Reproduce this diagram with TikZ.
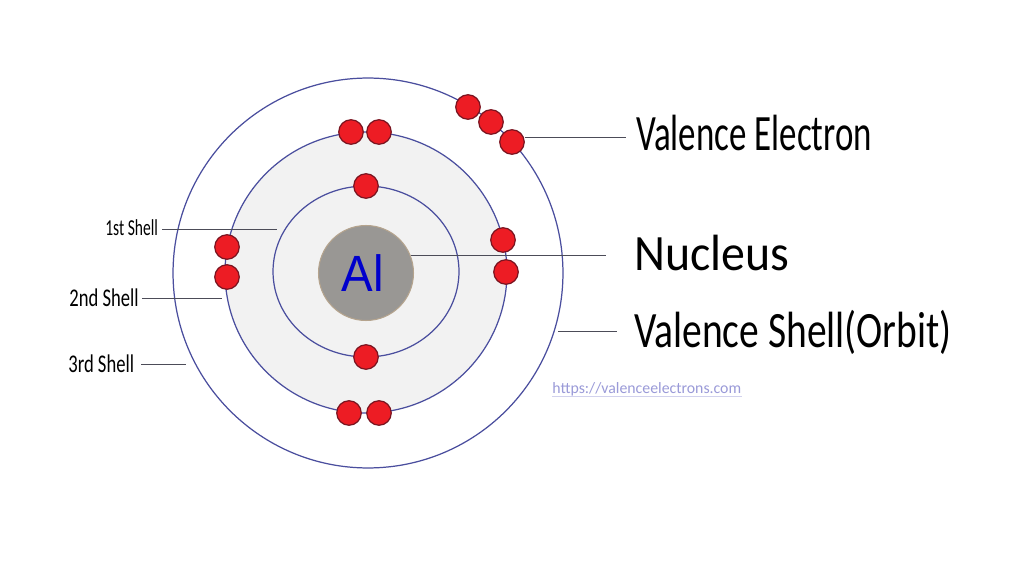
\documentclass[tikz,border=0pt]{standalone}
\usepackage{fontspec}
\usetikzlibrary{shapes.geometric}
\setmainfont{Carlito}
\newfontfamily\valenceFont[FakeStretch=0.685]{Carlito}
\newfontfamily\orbitFont[FakeStretch=0.775]{Carlito}
\newfontfamily\coreFont[FakeStretch=0.94]{Carlito}
\newfontfamily\firstFont[FakeStretch=0.68]{Carlito}
\newfontfamily\shellFont[FakeStretch=0.73]{Carlito}
\newfontfamily\symbolFont[FakeStretch=0.93]{Liberation Sans}
\definecolor{orbitblue}{HTML}{4A4E9E}
\definecolor{leadgrey}{HTML}{4C4C58}
\definecolor{corefill}{HTML}{999794}
\definecolor{coreline}{HTML}{B5A48E}
\definecolor{shellfill}{HTML}{F2F2F2}
\definecolor{electronred}{HTML}{ED1C24}
\definecolor{electronline}{HTML}{7A1420}
\definecolor{urlblue}{HTML}{9A9AD8}
\tikzset{
    orbit/.style={ellipse, draw=orbitblue, line width=0.7pt, inner sep=0pt},
    electron/.style={circle, fill=electronred, draw=electronline, line width=0.7pt, inner sep=0pt, minimum size=0.49cm},
    lead/.style={draw=leadgrey, line width=0.6pt},
    biglabel/.style={inner sep=0pt, anchor=west, text=black},
    shelllabel/.style={inner sep=0pt, anchor=west, text=black}
}
\begin{document}
\begin{tikzpicture}[x=0.02cm, y=-0.02cm]
    \useasboundingbox (0,0) rectangle (1024,574);
    \fill[white] (0,0) rectangle (1024,574);

    % shells and core
    \node[orbit, minimum width=7.8cm, minimum height=7.8cm] (shellC) at (368,273) {};
    \node[orbit, fill=shellfill, minimum width=5.64cm, minimum height=5.62cm] (shellB) at (366,272.5) {};
    \node[orbit, minimum width=3.72cm, minimum height=3.42cm] (shellA) at (366,271.5) {};
    \node[circle, fill=corefill, draw=coreline, line width=0.6pt, inner sep=0pt, minimum size=1.9cm,
        text=blue!80!black, font=\symbolFont\fontsize{29}{29}\selectfont] (core) at (366,273) {Al\kern0.12cm\relax};

    % labels
    \node[biglabel, font=\valenceFont\fontsize{29}{29}\selectfont] (valenceLabel) at (636,133) {Valence Electron};
    \node[biglabel, font=\coreFont\fontsize{29}{29}\selectfont] (coreLabel) at (634,253) {Nucleus};
    \node[biglabel, font=\orbitFont\fontsize{29}{29}\selectfont] (orbitLabel) at (634,332) {Valence Shell(Orbit)};
    \node[shelllabel, font=\firstFont\fontsize{13}{13}\selectfont] (firstLabel) at (105,228) {1st Shell};
    \node[shelllabel, font=\shellFont\fontsize{14.5}{14.5}\selectfont] (secondLabel) at (69,298) {2nd Shell};
    \node[shelllabel, font=\shellFont\fontsize{14.5}{14.5}\selectfont] (thirdLabel) at (68,364) {3rd Shell};
    \node[inner sep=0pt, anchor=west, text=urlblue, font=\fontsize{9}{9}\selectfont] (urlLabel) at (552,389.5) {https://valenceelectrons.com};
    \draw[urlblue!45, line width=0.3pt] (urlLabel.south west) -- (urlLabel.south east);

    % electrons
    \foreach \name/\x/\y in {vA/468/107, vB/491/122, vC/512/142,
        bA/351/132, bB/379/132, bC/503/240, bD/506/272, bE/379/413, bF/349/413, bG/227/277, bH/227/247,
        aA/366/186, aB/366/357}
        \node[electron] (\name) at (\x,\y) {};

    % leaders
    \coordinate (firstEnd) at (277,229.5);
    \coordinate (secondEnd) at (222,298.5);
    \coordinate (thirdEnd) at (186,364.5);
    \coordinate (coreEnd) at (606,255.5);
    \coordinate (valenceEnd) at (626,137.5);
    \coordinate (orbitStart) at (558,331.5);
    \coordinate (orbitEnd) at (617,331.5);
    \draw[lead] (firstLabel.east |- firstEnd) ++(4,0) -- (firstEnd);
    \draw[lead] (secondLabel.east |- secondEnd) ++(3,0) -- (secondEnd);
    \draw[lead] (thirdLabel.east |- thirdEnd) ++(7,0) -- (thirdEnd);
    \draw[lead] (core.22 |- coreEnd) -- (coreEnd);
    \draw[lead] (vC.east |- valenceEnd) -- (valenceEnd);
    \draw[lead] (orbitStart) -- (orbitEnd);
\end{tikzpicture}
\end{document}
